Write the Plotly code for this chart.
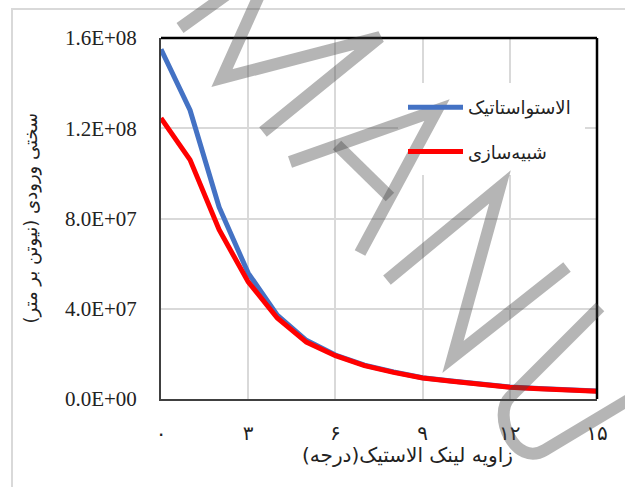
import plotly.graph_objects as go

# Link angle (degrees) and input stiffness (N/m) for the two methods
angle_deg = list(range(16))
quasi_static = [1.55e8, 1.28e8, 8.5e7, 5.58e7, 3.72e7, 2.6e7, 1.95e7, 1.5e7,
                1.2e7, 9.4e6, 8.0e6, 6.5e6, 5.3e6, 4.6e6, 4.0e6, 3.5e6]
simulation = [1.245e8, 1.06e8, 7.5e7, 5.19e7, 3.59e7, 2.52e7, 1.92e7, 1.48e7,
              1.18e7, 9.3e6, 7.9e6, 6.4e6, 5.2e6, 4.5e6, 3.9e6, 3.4e6]
series_names = ["الاستواستاتیک", "شبیه\u200cسازی"]

x_tickvals = [0, 3, 6, 9, 12, 15]
x_ticktext = ["۰", "۳", "۶", "۹", "۱۲", "۱۵"]
y_tickvals = [0, 4e7, 8e7, 1.2e8, 1.6e8]
y_ticktext = ["0.0E+00", "4.0E+07", "8.0E+07", "1.2E+08", "1.6E+08"]

x_title = "زاویه لینک الاستیک(درجه)"
y_title = "سختی ورودی (نیوتن بر متر)"

W, H = 625, 487
L, R, T, B = 161, 28, 38, 88
PW, PH = W - L - R, H - T - B


def to_paper(px, py):
    return (px - L) / PW, (H - B - py) / PH


def poly_path(points):
    parts = []
    for i, (px, py) in enumerate(points):
        x, y = to_paper(px, py)
        parts.append(("M" if i == 0 else "L") + f"{x:.4f},{y:.4f}")
    return " ".join(parts)


fig = go.Figure()
fig.add_trace(go.Scatter(x=angle_deg, y=quasi_static, mode="lines",
                         name=series_names[0], legendgroup="a",
                         line=dict(color="#4472C4", width=5)))
fig.add_trace(go.Scatter(x=angle_deg, y=simulation, mode="lines",
                         name=series_names[1], legendgroup="b",
                         line=dict(color="#FF0000", width=5)))

shapes = []
# outer chart-area frame
x0, y0 = to_paper(12, 9)
x1, y1 = to_paper(W + 20, H + 20)
shapes.append(dict(type="rect", xref="paper", yref="paper", x0=x0, y0=y1, x1=x1, y1=y0,
                   line=dict(color="#d9d9d9", width=2), fillcolor="rgba(0,0,0,0)", layer="below"))
# top and right plot border
shapes.append(dict(type="line", xref="paper", yref="paper", x0=0, y0=1, x1=1, y1=1,
                   line=dict(color="black", width=2.5), layer="above"))
shapes.append(dict(type="line", xref="paper", yref="paper", x0=1, y0=0, x1=1, y1=1,
                   line=dict(color="black", width=2.5), layer="above"))
# white backing behind the legend
lx0, ly0 = to_paper(398, 83)
lx1, ly1 = to_paper(585, 175)
shapes.append(dict(type="rect", xref="paper", yref="paper", x0=lx0, y0=ly1, x1=lx1, y1=ly0,
                   line=dict(width=0), fillcolor="white", layer="above"))

# "MANU" watermark strokes
wm = dict(color="rgba(70,70,70,0.4)", width=12)
for pts in [
    [(180, 28), (275, -40), (222, 78), (380, 37), (263, 132)],
    [(290, 162), (437, 110), (360, 253)],
    [(337, 145), (390, 197)],
    [(387, 280), (500, 187), (453, 357), (567, 267)],
]:
    shapes.append(dict(type="path", xref="paper", yref="paper", path=poly_path(pts),
                       line=wm, layer="above"))
u_pts = [(600, 307), (510, 397), (492, 415), (515, 468), (545, 450), (660, 381)]
up = [to_paper(*p) for p in u_pts]
u_path = (f"M{up[0][0]:.4f},{up[0][1]:.4f} L{up[1][0]:.4f},{up[1][1]:.4f} "
          f"C{up[2][0]:.4f},{up[2][1]:.4f} {up[3][0]:.4f},{up[3][1]:.4f} {up[4][0]:.4f},{up[4][1]:.4f} "
          f"L{up[5][0]:.4f},{up[5][1]:.4f}")
shapes.append(dict(type="path", xref="paper", yref="paper", path=u_path, line=wm, layer="above"))

ax_x, _ = to_paper(30, 218)
tx, ty = to_paper(407, 455)
annotations = [
    dict(text=y_title, xref="paper", yref="paper", x=ax_x, y=0.5, showarrow=False,
         textangle=-90, font=dict(family="DejaVu Sans", size=18, color="#222"),
         xanchor="center", yanchor="middle"),
    dict(text=x_title, xref="paper", yref="paper", x=tx, y=ty, showarrow=False,
         font=dict(family="DejaVu Sans", size=20, color="#222"),
         xanchor="center", yanchor="middle"),
]

lgx, lgy = to_paper(403, 89)
fig.update_layout(
    width=W, height=H, autosize=False,
    margin=dict(l=L, r=R, t=T, b=B, pad=0),
    paper_bgcolor="white", plot_bgcolor="white",
    showlegend=True,
    legend=dict(x=lgx, y=lgy, xanchor="left", yanchor="top",
                bgcolor="rgba(0,0,0,0)", borderwidth=0,
                font=dict(family="DejaVu Sans", size=18, color="#222"),
                itemwidth=55, traceorder="grouped", tracegroupgap=18),
    shapes=shapes,
    annotations=annotations,
    xaxis=dict(range=[0, 15], tickmode="array", tickvals=x_tickvals, ticktext=x_ticktext,
               showgrid=True, gridcolor="#d9d9d9", gridwidth=1.5, zeroline=False,
               showline=True, linecolor="#404040", linewidth=2, ticks="",
               ticklabelstandoff=15,
               tickfont=dict(family="DejaVu Sans", size=20, color="#222")),
    yaxis=dict(range=[0, 1.6e8], tickmode="array", tickvals=y_tickvals, ticktext=y_ticktext,
               showgrid=True, gridcolor="#d9d9d9", gridwidth=1.5, zeroline=False,
               showline=True, linecolor="#404040", linewidth=2, ticks="",
               ticklabelstandoff=18,
               tickfont=dict(family="Liberation Serif", size=21, color="#222")),
)

fig.write_html("out.html")
